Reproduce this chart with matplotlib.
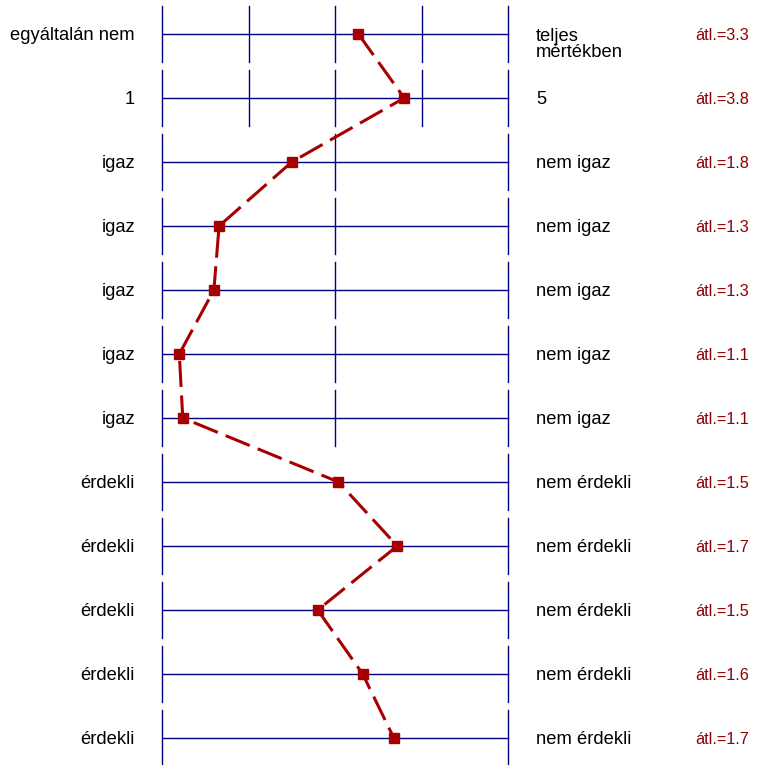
import matplotlib.pyplot as plt

# rows of the profile chart (top to bottom)
left_labels = ["egyáltalán nem", "1", "igaz", "igaz", "igaz", "igaz", "igaz",
               "érdekli", "érdekli", "érdekli", "érdekli", "érdekli"]
right_labels = ["teljes\nmértékben", "5", "nem igaz", "nem igaz", "nem igaz", "nem igaz",
                "nem igaz", "nem érdekli", "nem érdekli", "nem érdekli", "nem érdekli", "nem érdekli"]
scale_max = [5, 5, 3, 3, 3, 3, 3, 2, 2, 2, 2, 2]
means = [3.27, 3.80, 1.75, 1.33, 1.30, 1.10, 1.12, 1.51, 1.68, 1.45, 1.58, 1.67]
mean_labels = ["3.3", "3.8", "1.8", "1.3", "1.3", "1.1", "1.1", "1.5", "1.7", "1.5", "1.6", "1.7"]

plt.rcParams['font.family'] = ['Liberation Sans', 'DejaVu Sans']

W, H = 762, 765
fig = plt.figure(figsize=(W / 100, H / 100), dpi=100)
x0, x1 = 162, 508
ax = fig.add_axes([x0 / W, 0, (x1 - x0) / W, 1])
n = len(means)
ax.set_xlim(0, 1)
ax.set_ylim((H - 34) / 64, -34 / 64)
ax.axis("off")

navy = "#000080"
half = 28 / 64
dy = 0.025  # small downward nudge of the labels
pos = []
for i in range(n):
    ax.plot([0, 1], [i, i], color=navy, lw=1.0, clip_on=False)
    k = scale_max[i]
    for t in range(k):
        xt = t / (k - 1)
        ax.plot([xt, xt], [i - half, i + half], color=navy, lw=1.0, clip_on=False)
    pos.append((means[i] - 1) / (k - 1))

    ax.text(-0.078, i + dy, left_labels[i], ha="right", va="center", fontsize=13.2)
    if "\n" in right_labels[i]:
        ax.text(1.081, i - 0.094, right_labels[i], ha="left", va="top", fontsize=13.2,
                linespacing=0.93)
    else:
        ax.text(1.081, i + dy, right_labels[i], ha="left", va="center", fontsize=13.2)
    ax.text(1.54, i + dy, "átl.=" + mean_labels[i], ha="left", va="center",
            fontsize=11.7, color="#8b0000")

line, = ax.plot(pos, range(n), color="#a80000", lw=2.2, marker="s", markersize=6.5,
                clip_on=False, zorder=5)
line.set_dashes([8.5, 2.8])  # in units of line width

fig.savefig("out.png", dpi=100)
